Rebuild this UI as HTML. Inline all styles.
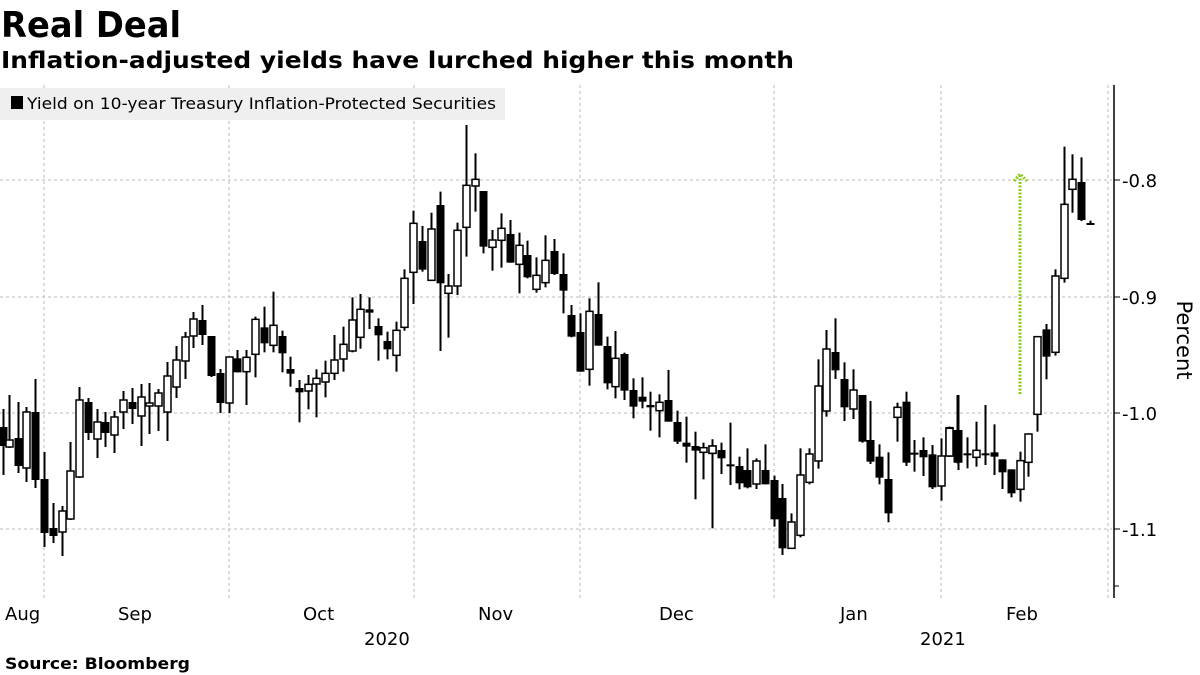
<!DOCTYPE html>
<html><head><meta charset="utf-8"><style>
html,body{margin:0;padding:0;background:#fff;}
svg{display:block;}
</style></head><body>
<svg id="s" width="1200" height="675" xmlns="http://www.w3.org/2000/svg" font-family="'DejaVu Sans','Liberation Sans',sans-serif">
<text x="1" y="37" font-size="36" font-weight="bold" textLength="180" lengthAdjust="spacingAndGlyphs">Real Deal</text>
<text x="1" y="68" font-size="23" font-weight="bold" textLength="793" lengthAdjust="spacingAndGlyphs">Inflation-adjusted yields have lurched higher this month</text>
<g id="grid" stroke="#bbb" stroke-width="1" stroke-dasharray="3,3"></g>
<rect x="0" y="88" width="505" height="32" fill="#efefef"/>
<rect x="11" y="96" width="12" height="13" fill="#000"/>
<text x="27" y="109" font-size="16" textLength="469" lengthAdjust="spacingAndGlyphs">Yield on 10-year Treasury Inflation-Protected Securities</text>
<g id="c"></g>
<g id="arrow" stroke="#8ccc1c" stroke-width="3" stroke-dasharray="2,1.5" fill="none">
<line x1="1020" y1="394" x2="1020" y2="176"/>
<polyline points="1014,181 1020,174 1027,181"/>
</g>
<line x1="1114" y1="85" x2="1114" y2="598" stroke="#000" stroke-width="1.5"/>
<g font-size="18" fill="#000">
<line x1="1114" y1="180" x2="1120" y2="180" stroke="#000"/><text x="1122" y="187">-0.8</text>
<line x1="1114" y1="297" x2="1120" y2="297" stroke="#000"/><text x="1122" y="304">-0.9</text>
<line x1="1114" y1="413" x2="1120" y2="413" stroke="#000"/><text x="1122" y="420">-1.0</text>
<line x1="1114" y1="529" x2="1120" y2="529" stroke="#000"/><text x="1122" y="536">-1.1</text>
<line x1="1114" y1="586" x2="1119" y2="586" stroke="#000"/>
<text x="1177" y="340" font-size="21" transform="rotate(90 1177 340)" text-anchor="middle">Percent</text>
<text x="5" y="620">Aug</text>
<text x="118" y="620">Sep</text>
<text x="303" y="620">Oct</text>
<text x="478" y="620">Nov</text>
<text x="659" y="620">Dec</text>
<text x="840" y="620">Jan</text>
<text x="1006" y="620">Feb</text>
<text x="364" y="645">2020</text>
<text x="920" y="645">2021</text>
</g>
<text x="5" y="669" font-size="16" font-weight="bold" textLength="185" lengthAdjust="spacingAndGlyphs">Source: Bloomberg</text>
</svg>
<script>
var NS="http://www.w3.org/2000/svg";
function el(p,t,a){var e=document.createElementNS(NS,t);for(var k in a)e.setAttribute(k,a[k]);p.appendChild(e);return e;}
var g=document.getElementById('grid');
[180,297,413,529].forEach(function(y){el(g,'line',{x1:0,y1:y,x2:1112,y2:y});});
[44,229,414,580,774,941,1108].forEach(function(x){el(g,'line',{x1:x,y1:85,x2:x,y2:598});});
var C=[[3,427,446,409,475,1],[9,440,447,395,448,0],[18,438,466,402,473,1],[26,412,468,407,482,0],[35,412,480,379,488,1],[44,479,533,452,547,1],[53,528,536,503,543,1],[62,511,532,506,556,0],[70,471,519,442,520,0],[79,400,477,387,478,0],[88,402,433,398,440,1],[97,422,439,409,458,0],[105,422,433,412,447,1],[114,417,435,411,453,0],[123,400,412,391,429,0],[132,402,409,388,424,1],[141,397,416,384,446,0],[149,403,406,383,434,0],[158,393,406,389,431,0],[167,376,412,362,441,0],[176,360,387,346,398,0],[185,337,361,332,379,0],[193,319,336,312,348,0],[202,320,335,305,345,1],[211,336,376,336,377,1],[220,373,403,369,413,1],[229,357,403,357,413,0]];
function add(x0,y0,arr){arr.forEach(function(a){C.push([x0+a[0]/3,y0+a[1]/3,y0+a[2]/3,y0+a[3]/3,y0+a[4]/3,a[5]]);});}
add(230,120,[[20,715,757,690,757,1],[48,712,755,690,855,0],[75,598,703,590,772,0],[103,622,670,560,697,1],[130,616,676,515,697,0],[155,648,700,632,757,1],[181,747,761,710,800,1],[208,804,817,780,907,1],[235,793,813,765,868,0],[259,775,792,748,892,0],[286,760,786,722,832,0],[313,720,760,645,780,0],[340,673,717,620,755,0],[367,600,693,532,697,0],[391,568,652,522,686,0],[418,568,578,532,627,1],[445,618,646,595,722,1],[472,663,688,635,718,1],[499,631,706,605,755,0],[523,475,622,448,632,0],[550,310,457,272,552,0],[577,363,449,318,455,1],[604,327,481,278,481,0],[631,255,490,215,693,1],[655,498,520,462,653,0],[682,331,498,308,525,0],[709,196,322,15,410,0]]);
add(470,120,[[16,178,198,100,275,0],[40,213,380,213,400,1],[67,360,382,330,452,0],[94,325,361,280,443,0],[121,342,428,300,428,1],[148,376,433,338,520,0],[172,405,472,362,475,1],[199,466,508,412,518,0],[226,421,488,346,502,0],[253,393,462,357,465,1],[280,462,512,400,580,1],[304,585,650,555,652,1],[331,636,755,580,755,1],[358,574,748,535,797,0],[385,582,677,487,677,1],[412,678,790,650,808,1],[436,715,800,633,835,0],[463,702,812,698,840,1],[490,810,860,775,895,1],[517,830,845,772,865,1],[541,855,862,815,932,1],[568,847,872,823,952,0],[595,840,905,750,905,1],[622,906,965,872,972,1],[649,968,980,890,1028,1],[674,978,992,935,1138,1],[700,983,997,968,1078,0],[727,978,1000,958,1138,0]]);
add(710,310,[[5,408,430,388,655,0],[34,420,445,398,492,1],[60,463,468,338,525,1],[86,468,520,440,538,1],[112,480,532,415,535,1],[139,453,522,445,537,0],[166,480,523,403,523,1],[193,510,628,497,650,1],[217,564,715,522,735,1],[243,636,715,610,715,0],[270,495,676,415,682,0],[297,432,517,415,523,0],[324,228,453,148,476,0],[349,117,303,60,320,0],[376,126,181,25,207,1],[403,207,292,157,333,1],[430,240,297,178,327,0],[455,255,395,255,398,1],[481,390,455,273,462,1],[508,440,503,403,523,1],[535,507,610,427,637,1],[562,292,322,278,395,0],[587,275,458,245,468,1],[613,428,434,390,485,1],[640,420,442,382,498,1],[667,433,532,405,537,1],[694,438,528,385,572,0],[718,353,438,350,440,0],[742,360,458,255,460,1]]);
add(940,140,[[28,865,948,860,950,0],[55,870,968,765,990,1],[82,940,946,892,985,1],[109,931,952,845,980,0],[136,940,946,795,975,1],[161,937,950,853,1005,1],[187,958,997,958,1047,1],[214,988,1060,988,1072,1],[241,962,1048,935,1085,0],[265,882,967,880,1010,0],[292,590,823,590,875,0],[319,568,650,552,718,1],[346,408,637,388,647,0],[373,193,415,20,428,0],[397,118,148,43,218,0],[424,126,240,52,243,1],[451,249,254,242,254,1]]);
var cg=document.getElementById('c');
C.forEach(function(a){
 var x=Math.round(a[0])+0.5;
 el(cg,'line',{x1:x,y1:a[3],x2:x,y2:a[4],stroke:'#000','stroke-width':2});
 var h=Math.max(a[2]-a[1],2);
 if(a[5]) el(cg,'rect',{x:x-4,y:a[1],width:8,height:h,fill:'#000'});
 else el(cg,'rect',{x:x-3.5,y:a[1],width:7,height:h,fill:'#fff',stroke:'#000','stroke-width':1.5});
});
</script>
</body></html>
